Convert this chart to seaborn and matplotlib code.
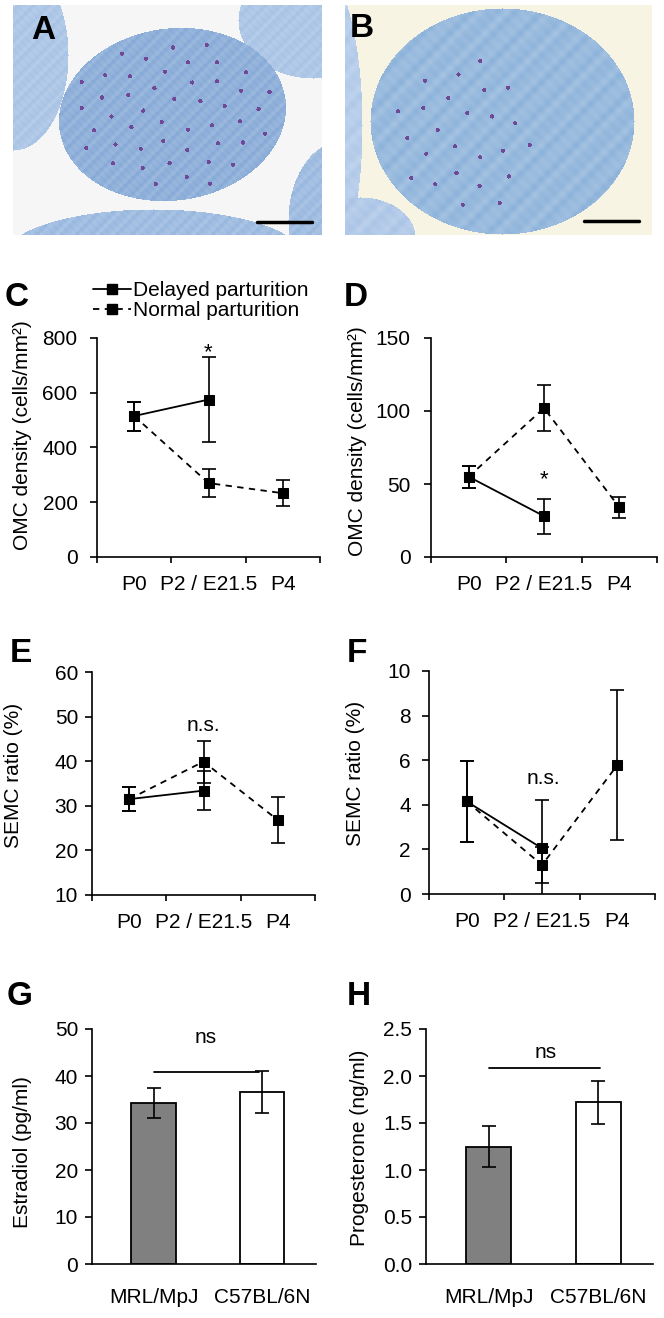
import numpy as np
import pandas as pd
import matplotlib
matplotlib.use("Agg")
import matplotlib.pyplot as plt
from matplotlib.lines import Line2D
import seaborn as sns

W, H = 664, 1318  # output size in pixels (dpi 100)

# time course categories
stages = ["P0", "P2 / E21.5", "P4"]
groups = ["Delayed parturition", "Normal parturition"]

# C - OMC density (cells/mm2), mean and error
c_delayed = [515, 575, None]
c_delayed_err = [53, 155, None]
c_normal = [515, 270, 233]
c_normal_err = [53, 52, 47]

# D - OMC density (cells/mm2)
d_delayed = [55, 28, None]
d_delayed_err = [7.5, 12, None]
d_normal = [55, 102, 34]
d_normal_err = [7.5, 16, 7]

# E - SEMC ratio (%)
e_delayed = [31.5, 33.4, None]
e_delayed_err = [2.7, 4.4, None]
e_normal = [31.5, 39.9, 26.8]
e_normal_err = [2.7, 4.7, 5.2]

# F - SEMC ratio (%)
f_delayed = [4.15, 2.05, None]
f_delayed_err = [1.8, 2.15, None]
f_normal = [4.15, 1.3, 5.78]
f_normal_err = [1.8, 0.8, 3.38]

# G / H - serum hormones
strains = ["MRL/MpJ", "C57BL/6N"]
bar_colors = ["#808080", "#ffffff"]
estradiol = [34.2, 36.6]
estradiol_err = [3.2, 4.4]
progesterone = [1.25, 1.72]
progesterone_err = [0.22, 0.23]

sns.set_style("ticks")
plt.rcParams["font.family"] = ["Liberation Sans", "DejaVu Sans"]
plt.rcParams["font.size"] = 15
plt.rcParams["axes.linewidth"] = 1.2
# pure black text and axes like the original figure
for key in ["text.color", "axes.labelcolor", "axes.edgecolor", "xtick.color", "ytick.color"]:
    plt.rcParams[key] = "black"

fig = plt.figure(figsize=(W / 100, H / 100), dpi=100)


def px_axes(l, t, r, b):
    # axes from pixel box (left, top, right, bottom)
    return fig.add_axes([l / W, 1 - b / H, (r - l) / W, (b - t) / H])


def fig_text(x, y, s, **kw):
    fig.text(x / W, 1 - y / H, s, **kw)


def set_ylabel_px(ax, label, x_px, y_px):
    ax.set_ylabel(label, fontsize=15)
    ax.yaxis.set_label_coords(x_px / W, 1 - y_px / H, transform=fig.transFigure)


def tissue_image(w, h, bg, blobs, dots, period):
    # simple stand-in for the toluidine blue micrographs
    yy, xx = np.mgrid[0:h, 0:w].astype(float)
    img = np.ones((h, w, 3)) * np.array(bg) / 255
    texture = (0.5 + 0.25 * np.cos(2 * np.pi * xx / period) * np.cos(2 * np.pi * yy / period)
               + 0.25 * np.cos(2 * np.pi * (xx + yy) / (period * 1.7)))
    for cx, cy, a, b, ang, col in blobs:
        t = np.deg2rad(ang)
        dx, dy = xx - cx, yy - cy
        u = (dx * np.cos(t) + dy * np.sin(t)) / a
        v = (-dx * np.sin(t) + dy * np.cos(t)) / b
        m = u ** 2 + v ** 2 <= 1
        c = np.array(col) / 255
        img[m] = c + (1 - c) * 0.22 * texture[m][:, None]
    # purple stained cells on a golden-angle spiral inside the main blob
    cx, cy, a, b, n = dots
    for k in range(1, n):
        r = np.sqrt(k / n) * 0.9
        th = k * 2.39996
        px, py = cx + a * r * np.cos(th), cy + b * r * np.sin(th)
        m = (xx - px) ** 2 + (yy - py) ** 2 <= 4.5
        img[m] = np.array([112, 72, 150]) / 255
    return img


# ---- A / B micrographs ----
ax_a = px_axes(13, 5, 322, 235)
img_a = tissue_image(
    309, 230, (246, 246, 246),
    [(0, 50, 55, 95, 0, (165, 193, 228)),
     (300, 15, 75, 58, 0, (165, 193, 228)),
     (330, 215, 55, 80, 0, (150, 182, 222)),
     (140, 252, 150, 48, 0, (150, 182, 222)),
     (159, 109, 114, 86, -8, (132, 168, 214))],
    (159, 109, 114, 86, 48), 8)
ax_a.imshow(img_a, extent=(0, 309, 230, 0), aspect="auto")
ax_a.plot([244, 299], [217, 217], color="black", lw=2.5)
ax_a.set_xlim(0, 309)
ax_a.set_ylim(230, 0)
ax_a.set_axis_off()

ax_b = px_axes(345, 5, 652, 235)
img_b = tissue_image(
    307, 230, (248, 244, 228),
    [(-28, 120, 45, 160, 0, (175, 200, 232)),
     (15, 232, 55, 40, 0, (170, 196, 230)),
     (157, 116, 132, 113, 0, (140, 178, 218))],
    (120, 130, 80, 90, 26), 14)
ax_b.imshow(img_b, extent=(0, 307, 230, 0), aspect="auto")
ax_b.plot([239, 294], [216, 216], color="black", lw=2.5)
ax_b.set_xlim(0, 307)
ax_b.set_ylim(230, 0)
ax_b.set_axis_off()


# ---- C-F time course panels ----
def time_panel(ax, delayed, delayed_err, normal, normal_err, ylim, yticks, ypad):
    df = pd.DataFrame({
        "pos": list(range(len(stages))) * 2,
        "value": np.r_[np.array(delayed, float), np.array(normal, float)],
        "group": [groups[0]] * len(stages) + [groups[1]] * len(stages),
    })
    sns.lineplot(data=df, x="pos", y="value", style="group", style_order=groups,
                 dashes={groups[0]: "", groups[1]: (3.5, 3)},
                 markers={groups[0]: "s", groups[1]: "s"},
                 color="black", linewidth=1.3, markersize=7.5,
                 markeredgecolor="black", errorbar=None, legend=False, ax=ax)
    for vals, errs in [(delayed, delayed_err), (normal, normal_err)]:
        ax.errorbar(range(len(stages)), np.array(vals, float), yerr=np.array(errs, float),
                    fmt="none", ecolor="black", elinewidth=1.2, capsize=5, capthick=1.2)
    ax.set_xlim(-0.5, len(stages) - 0.5)
    ax.set_ylim(*ylim)
    ax.set_yticks(yticks)
    ax.set_xticks(np.arange(len(stages) + 1) - 0.5)
    ax.set_xticklabels([])
    ax.set_xticks(range(len(stages)), minor=True)
    ax.set_xticklabels(stages, minor=True, fontsize=15)
    ax.tick_params(axis="x", which="minor", length=0, pad=13)
    ax.tick_params(axis="x", which="major", length=4.5, width=1.2, direction="out")
    ax.tick_params(axis="y", length=5, width=1.2, pad=ypad, labelsize=15)
    ax.set_xlabel("")
    sns.despine(ax=ax)


ax_c = px_axes(97, 338, 320, 557)
time_panel(ax_c, c_delayed, c_delayed_err, c_normal, c_normal_err,
           (0, 800), [0, 200, 400, 600, 800], 9)
set_ylabel_px(ax_c, "OMC density (cells/mm²)", 32, 435)
ax_c.text(1, 728, "*", ha="center", va="baseline", fontsize=16)

ax_d = px_axes(431, 338, 657, 557)
time_panel(ax_d, d_delayed, d_delayed_err, d_normal, d_normal_err,
           (0, 150), [0, 50, 100, 150], 9.5)
set_ylabel_px(ax_d, "OMC density (cells/mm²)", 367, 441)
ax_d.text(1, 49, "*", ha="center", va="baseline", fontsize=16)

ax_e = px_axes(92, 672, 315, 895)
time_panel(ax_e, e_delayed, e_delayed_err, e_normal, e_normal_err,
           (10, 60), [10, 20, 30, 40, 50, 60], 5)
set_ylabel_px(ax_e, "SEMC ratio (%)", 23, 775)
ax_e.text(1, 46.8, "n.s.", ha="center", va="baseline", fontsize=15)

ax_f = px_axes(429, 671, 655, 894)
time_panel(ax_f, f_delayed, f_delayed_err, f_normal, f_normal_err,
           (0, 10), [0, 2, 4, 6, 8, 10], 8)
set_ylabel_px(ax_f, "SEMC ratio (%)", 365, 773)
ax_f.text(1.02, 4.93, "n.s.", ha="center", va="baseline", fontsize=15)

# legend above panel C
handles = [
    Line2D([], [], color="black", lw=1.3, marker="s", markersize=7.5),
    Line2D([], [], color="black", lw=1.3, ls=(0, (3.5, 3)), marker="s", markersize=7.5),
]
fig.legend(handles, groups, loc="upper left", bbox_to_anchor=(93 / W, 1 - 281 / H),
           frameon=False, fontsize=15, handlelength=1.8, handletextpad=0.1,
           labelspacing=0.05, borderpad=0, borderaxespad=0)


# ---- G / H bar panels ----
def bar_panel(ax, values, errs, ylim, yticks, fmt):
    df = pd.DataFrame({"strain": strains, "value": values})
    sns.barplot(data=df, x="strain", y="value", hue="strain",
                palette=dict(zip(strains, bar_colors)), edgecolor="black",
                linewidth=1.3, width=0.41, errorbar=None, legend=False, ax=ax)
    ax.errorbar(range(len(strains)), values, yerr=errs, fmt="none", ecolor="black",
                elinewidth=1.2, capsize=5, capthick=1.2)
    ax.set_xlim(-0.57, 1.5)
    ax.set_ylim(*ylim)
    ax.set_yticks(yticks)
    ax.set_yticklabels([fmt.format(t) for t in yticks])
    ax.tick_params(axis="x", length=0, pad=17.5, labelsize=15)
    ax.tick_params(axis="y", length=5, width=1.2, pad=5, labelsize=15)
    ax.set_xlabel("")
    sns.despine(ax=ax)


ax_g = px_axes(92, 1029, 316, 1264)
bar_panel(ax_g, estradiol, estradiol_err, (0, 50), [0, 10, 20, 30, 40, 50], "{:g}")
set_ylabel_px(ax_g, "Estradiol (pg/ml)", 32, 1152)
ax_g.plot([0, 0.97], [40.9, 40.9], color="black", lw=1.3)
ax_g.text(0.48, 47.1, "ns", ha="center", va="baseline", fontsize=15)

ax_h = px_axes(426, 1029, 653, 1264)
bar_panel(ax_h, progesterone, progesterone_err, (0, 2.5),
          [0, 0.5, 1.0, 1.5, 2.0, 2.5], "{:.1f}")
set_ylabel_px(ax_h, "Progesterone (ng/ml)", 369, 1148)
ax_h.plot([0, 1.02], [2.09, 2.09], color="black", lw=1.3)
ax_h.text(0.52, 2.19, "ns", ha="center", va="baseline", fontsize=15)

# panel letters
for letter, x, y in [("A", 31, 39), ("B", 350, 37),
                     ("C", 5, 306), ("D", 344, 306),
                     ("E", 10, 662), ("F", 347, 662),
                     ("G", 7, 1005), ("H", 347, 1005)]:
    fig_text(x, y, letter, fontsize=24, fontweight="bold", va="baseline")

fig.savefig("out.png", dpi=100)
